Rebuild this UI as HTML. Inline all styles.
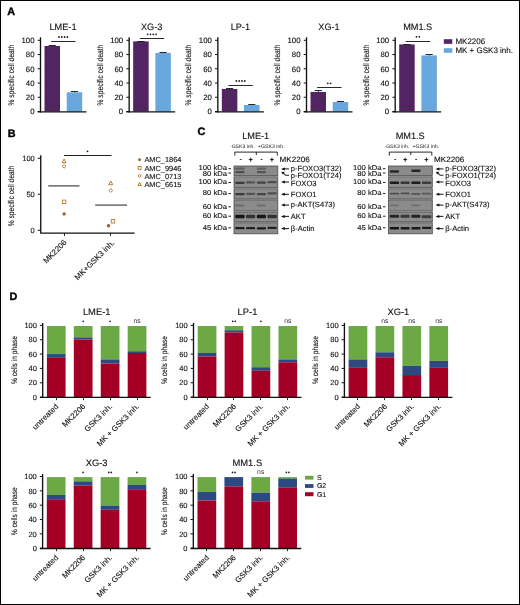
<!DOCTYPE html>
<html><head><meta charset="utf-8"><style>
html,body{margin:0;padding:0;background:#fff;}
#fig{position:relative;width:520px;height:605px;box-sizing:border-box;border:1px solid #000;overflow:hidden;background:#fff;}
svg{position:absolute;left:-1px;top:-1px;opacity:0.995;}
text{font-family:"Liberation Sans", sans-serif;stroke:#111;stroke-width:0.12px;text-rendering:geometricPrecision;}
</style></head><body>
<div id="fig"><svg width="520" height="605" viewBox="0 0 520 605" font-family='"Liberation Sans", sans-serif' fill="#111">
<defs><filter id="bl" x="-20%" y="-100%" width="140%" height="300%"><feGaussianBlur stdDeviation="0.65"/></filter></defs>
<text x="7.30" y="14.80" font-size="10.8" font-weight="bold" fill="#000" style="stroke:#000;stroke-width:0.4px">A</text>
<text x="7.80" y="136.70" font-size="10.8" font-weight="bold" fill="#000" style="stroke:#000;stroke-width:0.4px">B</text>
<text x="197.60" y="135.40" font-size="10.8" font-weight="bold" fill="#000" style="stroke:#000;stroke-width:0.4px">C</text>
<text x="9.60" y="300.30" font-size="10.8" font-weight="bold" fill="#000" style="stroke:#000;stroke-width:0.4px">D</text>
<text transform="translate(14.10,75.10) rotate(-90)" font-size="8.4" text-anchor="middle" textLength="60.7" lengthAdjust="spacingAndGlyphs">% specific cell death</text>
<text x="63.00" y="29.90" font-size="9.2" text-anchor="middle">LME-1</text>
<rect x="44.50" y="46.00" width="15.50" height="65.50" fill="#532462"/>
<line x1="52.50" y1="46.00" x2="52.50" y2="45.71" stroke="#111" stroke-width="0.8"/>
<line x1="48.65" y1="45.50" x2="55.85" y2="45.50" stroke="#111" stroke-width="0.9"/>
<rect x="66.70" y="92.28" width="15.50" height="19.22" fill="#68a8de"/>
<line x1="74.50" y1="92.28" x2="74.50" y2="91.92" stroke="#111" stroke-width="0.8"/>
<line x1="70.85" y1="91.50" x2="78.05" y2="91.50" stroke="#111" stroke-width="0.9"/>
<line x1="40.50" y1="37.30" x2="40.50" y2="112.50" stroke="#111" stroke-width="1.35"/>
<line x1="37.70" y1="111.85" x2="86.50" y2="111.85" stroke="#111" stroke-width="1.3"/>
<line x1="37.70" y1="111.50" x2="40.50" y2="111.50" stroke="#111" stroke-width="1.0"/>
<text x="34.50" y="114.30" font-size="7.8" text-anchor="end">0</text>
<line x1="37.70" y1="97.26" x2="40.50" y2="97.26" stroke="#111" stroke-width="1.0"/>
<text x="34.50" y="100.06" font-size="7.8" text-anchor="end">20</text>
<line x1="37.70" y1="83.02" x2="40.50" y2="83.02" stroke="#111" stroke-width="1.0"/>
<text x="34.50" y="85.82" font-size="7.8" text-anchor="end">40</text>
<line x1="37.70" y1="68.78" x2="40.50" y2="68.78" stroke="#111" stroke-width="1.0"/>
<text x="34.50" y="71.58" font-size="7.8" text-anchor="end">60</text>
<line x1="37.70" y1="54.54" x2="40.50" y2="54.54" stroke="#111" stroke-width="1.0"/>
<text x="34.50" y="57.34" font-size="7.8" text-anchor="end">80</text>
<line x1="37.70" y1="40.30" x2="40.50" y2="40.30" stroke="#111" stroke-width="1.0"/>
<text x="34.50" y="43.10" font-size="7.8" text-anchor="end">100</text>
<line x1="51.10" y1="41.50" x2="75.50" y2="41.50" stroke="#111" stroke-width="0.9"/>
<circle cx="59.00" cy="37.00" r="0.9" fill="#1a1a1a"/>
<circle cx="61.80" cy="37.00" r="0.9" fill="#1a1a1a"/>
<circle cx="64.60" cy="37.00" r="0.9" fill="#1a1a1a"/>
<circle cx="67.40" cy="37.00" r="0.9" fill="#1a1a1a"/>
<text transform="translate(102.77,75.10) rotate(-90)" font-size="8.4" text-anchor="middle" textLength="60.7" lengthAdjust="spacingAndGlyphs">% specific cell death</text>
<text x="151.67" y="29.90" font-size="9.2" text-anchor="middle">XG-3</text>
<rect x="133.17" y="41.37" width="15.50" height="70.13" fill="#532462"/>
<line x1="140.50" y1="41.37" x2="140.50" y2="41.08" stroke="#111" stroke-width="0.8"/>
<line x1="137.32" y1="41.50" x2="144.52" y2="41.50" stroke="#111" stroke-width="0.9"/>
<rect x="155.37" y="52.90" width="15.50" height="58.60" fill="#68a8de"/>
<line x1="163.50" y1="52.90" x2="163.50" y2="52.62" stroke="#111" stroke-width="0.8"/>
<line x1="159.52" y1="52.50" x2="166.72" y2="52.50" stroke="#111" stroke-width="0.9"/>
<line x1="129.17" y1="37.30" x2="129.17" y2="112.50" stroke="#111" stroke-width="1.35"/>
<line x1="126.37" y1="111.85" x2="175.17" y2="111.85" stroke="#111" stroke-width="1.3"/>
<line x1="126.37" y1="111.50" x2="129.17" y2="111.50" stroke="#111" stroke-width="1.0"/>
<text x="123.17" y="114.30" font-size="7.8" text-anchor="end">0</text>
<line x1="126.37" y1="97.26" x2="129.17" y2="97.26" stroke="#111" stroke-width="1.0"/>
<text x="123.17" y="100.06" font-size="7.8" text-anchor="end">20</text>
<line x1="126.37" y1="83.02" x2="129.17" y2="83.02" stroke="#111" stroke-width="1.0"/>
<text x="123.17" y="85.82" font-size="7.8" text-anchor="end">40</text>
<line x1="126.37" y1="68.78" x2="129.17" y2="68.78" stroke="#111" stroke-width="1.0"/>
<text x="123.17" y="71.58" font-size="7.8" text-anchor="end">60</text>
<line x1="126.37" y1="54.54" x2="129.17" y2="54.54" stroke="#111" stroke-width="1.0"/>
<text x="123.17" y="57.34" font-size="7.8" text-anchor="end">80</text>
<line x1="126.37" y1="40.30" x2="129.17" y2="40.30" stroke="#111" stroke-width="1.0"/>
<text x="123.17" y="43.10" font-size="7.8" text-anchor="end">100</text>
<line x1="139.77" y1="38.50" x2="164.17" y2="38.50" stroke="#111" stroke-width="0.9"/>
<circle cx="147.67" cy="34.30" r="0.9" fill="#1a1a1a"/>
<circle cx="150.47" cy="34.30" r="0.9" fill="#1a1a1a"/>
<circle cx="153.27" cy="34.30" r="0.9" fill="#1a1a1a"/>
<circle cx="156.07" cy="34.30" r="0.9" fill="#1a1a1a"/>
<text transform="translate(191.44,75.10) rotate(-90)" font-size="8.4" text-anchor="middle" textLength="60.7" lengthAdjust="spacingAndGlyphs">% specific cell death</text>
<text x="240.34" y="29.90" font-size="9.2" text-anchor="middle">LP-1</text>
<rect x="221.84" y="89.00" width="15.50" height="22.50" fill="#532462"/>
<line x1="229.50" y1="89.00" x2="229.50" y2="88.43" stroke="#111" stroke-width="0.8"/>
<line x1="225.99" y1="88.50" x2="233.19" y2="88.50" stroke="#111" stroke-width="0.9"/>
<rect x="244.04" y="105.02" width="15.50" height="6.48" fill="#68a8de"/>
<line x1="251.50" y1="105.02" x2="251.50" y2="104.45" stroke="#111" stroke-width="0.8"/>
<line x1="248.19" y1="104.50" x2="255.39" y2="104.50" stroke="#111" stroke-width="0.9"/>
<line x1="217.84" y1="37.30" x2="217.84" y2="112.50" stroke="#111" stroke-width="1.35"/>
<line x1="215.04" y1="111.85" x2="263.84" y2="111.85" stroke="#111" stroke-width="1.3"/>
<line x1="215.04" y1="111.50" x2="217.84" y2="111.50" stroke="#111" stroke-width="1.0"/>
<text x="211.84" y="114.30" font-size="7.8" text-anchor="end">0</text>
<line x1="215.04" y1="97.26" x2="217.84" y2="97.26" stroke="#111" stroke-width="1.0"/>
<text x="211.84" y="100.06" font-size="7.8" text-anchor="end">20</text>
<line x1="215.04" y1="83.02" x2="217.84" y2="83.02" stroke="#111" stroke-width="1.0"/>
<text x="211.84" y="85.82" font-size="7.8" text-anchor="end">40</text>
<line x1="215.04" y1="68.78" x2="217.84" y2="68.78" stroke="#111" stroke-width="1.0"/>
<text x="211.84" y="71.58" font-size="7.8" text-anchor="end">60</text>
<line x1="215.04" y1="54.54" x2="217.84" y2="54.54" stroke="#111" stroke-width="1.0"/>
<text x="211.84" y="57.34" font-size="7.8" text-anchor="end">80</text>
<line x1="215.04" y1="40.30" x2="217.84" y2="40.30" stroke="#111" stroke-width="1.0"/>
<text x="211.84" y="43.10" font-size="7.8" text-anchor="end">100</text>
<line x1="228.44" y1="85.50" x2="252.84" y2="85.50" stroke="#111" stroke-width="0.9"/>
<circle cx="236.34" cy="81.00" r="0.9" fill="#1a1a1a"/>
<circle cx="239.14" cy="81.00" r="0.9" fill="#1a1a1a"/>
<circle cx="241.94" cy="81.00" r="0.9" fill="#1a1a1a"/>
<circle cx="244.74" cy="81.00" r="0.9" fill="#1a1a1a"/>
<text transform="translate(280.11,75.10) rotate(-90)" font-size="8.4" text-anchor="middle" textLength="60.7" lengthAdjust="spacingAndGlyphs">% specific cell death</text>
<text x="329.01" y="29.90" font-size="9.2" text-anchor="middle">XG-1</text>
<rect x="310.51" y="91.92" width="15.50" height="19.58" fill="#532462"/>
<line x1="318.50" y1="91.92" x2="318.50" y2="90.50" stroke="#111" stroke-width="0.8"/>
<line x1="314.66" y1="90.50" x2="321.86" y2="90.50" stroke="#111" stroke-width="0.9"/>
<rect x="332.71" y="102.03" width="15.50" height="9.47" fill="#68a8de"/>
<line x1="340.50" y1="102.03" x2="340.50" y2="101.60" stroke="#111" stroke-width="0.8"/>
<line x1="336.86" y1="101.50" x2="344.06" y2="101.50" stroke="#111" stroke-width="0.9"/>
<line x1="306.51" y1="37.30" x2="306.51" y2="112.50" stroke="#111" stroke-width="1.35"/>
<line x1="303.71" y1="111.85" x2="352.51" y2="111.85" stroke="#111" stroke-width="1.3"/>
<line x1="303.71" y1="111.50" x2="306.51" y2="111.50" stroke="#111" stroke-width="1.0"/>
<text x="300.51" y="114.30" font-size="7.8" text-anchor="end">0</text>
<line x1="303.71" y1="97.26" x2="306.51" y2="97.26" stroke="#111" stroke-width="1.0"/>
<text x="300.51" y="100.06" font-size="7.8" text-anchor="end">20</text>
<line x1="303.71" y1="83.02" x2="306.51" y2="83.02" stroke="#111" stroke-width="1.0"/>
<text x="300.51" y="85.82" font-size="7.8" text-anchor="end">40</text>
<line x1="303.71" y1="68.78" x2="306.51" y2="68.78" stroke="#111" stroke-width="1.0"/>
<text x="300.51" y="71.58" font-size="7.8" text-anchor="end">60</text>
<line x1="303.71" y1="54.54" x2="306.51" y2="54.54" stroke="#111" stroke-width="1.0"/>
<text x="300.51" y="57.34" font-size="7.8" text-anchor="end">80</text>
<line x1="303.71" y1="40.30" x2="306.51" y2="40.30" stroke="#111" stroke-width="1.0"/>
<text x="300.51" y="43.10" font-size="7.8" text-anchor="end">100</text>
<line x1="317.11" y1="87.50" x2="341.51" y2="87.50" stroke="#111" stroke-width="0.9"/>
<circle cx="327.81" cy="83.30" r="0.9" fill="#1a1a1a"/>
<circle cx="330.61" cy="83.30" r="0.9" fill="#1a1a1a"/>
<text transform="translate(368.78,75.10) rotate(-90)" font-size="8.4" text-anchor="middle" textLength="60.7" lengthAdjust="spacingAndGlyphs">% specific cell death</text>
<text x="417.68" y="29.90" font-size="9.2" text-anchor="middle">MM1.S</text>
<rect x="399.18" y="44.43" width="15.50" height="67.07" fill="#532462"/>
<line x1="406.50" y1="44.43" x2="406.50" y2="44.07" stroke="#111" stroke-width="0.8"/>
<line x1="403.33" y1="44.50" x2="410.53" y2="44.50" stroke="#111" stroke-width="0.9"/>
<rect x="421.38" y="55.39" width="15.50" height="56.11" fill="#68a8de"/>
<line x1="429.50" y1="55.39" x2="429.50" y2="54.54" stroke="#111" stroke-width="0.8"/>
<line x1="425.53" y1="54.50" x2="432.73" y2="54.50" stroke="#111" stroke-width="0.9"/>
<line x1="395.18" y1="37.30" x2="395.18" y2="112.50" stroke="#111" stroke-width="1.35"/>
<line x1="392.38" y1="111.85" x2="441.18" y2="111.85" stroke="#111" stroke-width="1.3"/>
<line x1="392.38" y1="111.50" x2="395.18" y2="111.50" stroke="#111" stroke-width="1.0"/>
<text x="389.18" y="114.30" font-size="7.8" text-anchor="end">0</text>
<line x1="392.38" y1="97.26" x2="395.18" y2="97.26" stroke="#111" stroke-width="1.0"/>
<text x="389.18" y="100.06" font-size="7.8" text-anchor="end">20</text>
<line x1="392.38" y1="83.02" x2="395.18" y2="83.02" stroke="#111" stroke-width="1.0"/>
<text x="389.18" y="85.82" font-size="7.8" text-anchor="end">40</text>
<line x1="392.38" y1="68.78" x2="395.18" y2="68.78" stroke="#111" stroke-width="1.0"/>
<text x="389.18" y="71.58" font-size="7.8" text-anchor="end">60</text>
<line x1="392.38" y1="54.54" x2="395.18" y2="54.54" stroke="#111" stroke-width="1.0"/>
<text x="389.18" y="57.34" font-size="7.8" text-anchor="end">80</text>
<line x1="392.38" y1="40.30" x2="395.18" y2="40.30" stroke="#111" stroke-width="1.0"/>
<text x="389.18" y="43.10" font-size="7.8" text-anchor="end">100</text>
<line x1="405.78" y1="41.50" x2="430.18" y2="41.50" stroke="#111" stroke-width="0.9"/>
<circle cx="416.48" cy="36.80" r="0.9" fill="#1a1a1a"/>
<circle cx="419.28" cy="36.80" r="0.9" fill="#1a1a1a"/>
<rect x="443.80" y="39.20" width="8.50" height="4.60" fill="#532462"/>
<rect x="443.80" y="48.20" width="8.50" height="4.60" fill="#68a8de"/>
<text x="455.40" y="44.20" font-size="8.0">MK2206</text>
<text x="455.40" y="53.20" font-size="8.0">MK + GSK3 inh.</text>
<line x1="40.75" y1="155.30" x2="40.75" y2="233.60" stroke="#111" stroke-width="1.35"/>
<line x1="40.75" y1="233.10" x2="134.60" y2="233.10" stroke="#111" stroke-width="1.3"/>
<line x1="37.75" y1="230.25" x2="40.75" y2="230.25" stroke="#111" stroke-width="1.0"/>
<text x="34.75" y="232.95" font-size="7.5" text-anchor="end">0</text>
<line x1="37.75" y1="194.25" x2="40.75" y2="194.25" stroke="#111" stroke-width="1.0"/>
<text x="34.75" y="196.95" font-size="7.5" text-anchor="end">50</text>
<line x1="37.75" y1="158.25" x2="40.75" y2="158.25" stroke="#111" stroke-width="1.0"/>
<text x="34.75" y="160.95" font-size="7.5" text-anchor="end">100</text>
<line x1="64.50" y1="233.00" x2="64.50" y2="236.00" stroke="#111" stroke-width="0.9"/>
<line x1="110.50" y1="233.00" x2="110.50" y2="236.00" stroke="#111" stroke-width="0.9"/>
<text transform="translate(14.40,196.00) rotate(-90)" font-size="8.4" text-anchor="middle" textLength="60.7" lengthAdjust="spacingAndGlyphs">% specific cell death</text>
<text transform="translate(67.20,243.00) rotate(-45)" font-size="7.9" text-anchor="end">MK2206</text>
<text transform="translate(114.90,243.40) rotate(-45)" font-size="7.9" text-anchor="end">MK+GSK3 inh.</text>
<line x1="48.30" y1="185.90" x2="79.50" y2="185.90" stroke="#505050" stroke-width="1.3"/>
<line x1="95.20" y1="205.10" x2="127.00" y2="205.10" stroke="#505050" stroke-width="1.3"/>
<line x1="64.00" y1="155.50" x2="111.50" y2="155.50" stroke="#222" stroke-width="1.0"/>
<circle cx="87.50" cy="151.30" r="0.9" fill="#1a1a1a"/>
<path d="M64.10,159.00 L66.10,162.70 L62.10,162.70Z" fill="none" stroke="#bb782e" stroke-width="1.0" stroke-linejoin="round"/>
<path d="M64.10,164.40 L66.00,166.30 L64.10,168.20 L62.20,166.30Z" fill="none" stroke="#bb782e" stroke-width="1.0"/>
<rect x="62.40" y="200.10" width="3.40" height="3.40" fill="none" stroke="#bb782e" stroke-width="0.9"/>
<circle cx="64.10" cy="213.90" r="1.70" fill="#a85a1e"/>
<path d="M110.80,181.00 L112.80,184.70 L108.80,184.70Z" fill="none" stroke="#bb782e" stroke-width="1.0" stroke-linejoin="round"/>
<path d="M110.80,188.60 L112.70,190.50 L110.80,192.40 L108.90,190.50Z" fill="none" stroke="#bb782e" stroke-width="1.0"/>
<rect x="111.30" y="219.60" width="3.40" height="3.40" fill="none" stroke="#bb782e" stroke-width="0.9"/>
<circle cx="108.50" cy="225.80" r="1.70" fill="#a85a1e"/>
<circle cx="139.60" cy="159.80" r="1.44" fill="#a85a1e"/>
<text x="144.40" y="162.40" font-size="7.3" textLength="37.0" lengthAdjust="spacingAndGlyphs">AMC_1864</text>
<rect x="138.16" y="166.46" width="2.89" height="2.89" fill="none" stroke="#bb782e" stroke-width="0.9"/>
<text x="144.40" y="170.50" font-size="7.3" textLength="37.0" lengthAdjust="spacingAndGlyphs">AMC_9946</text>
<path d="M139.60,174.38 L141.22,176.00 L139.60,177.62 L137.98,176.00Z" fill="none" stroke="#bb782e" stroke-width="1.0"/>
<text x="144.40" y="178.60" font-size="7.3" textLength="37.0" lengthAdjust="spacingAndGlyphs">AMC_0713</text>
<path d="M139.60,182.40 L141.30,185.55 L137.90,185.55Z" fill="none" stroke="#bb782e" stroke-width="1.0" stroke-linejoin="round"/>
<text x="144.40" y="186.70" font-size="7.3" textLength="37.0" lengthAdjust="spacingAndGlyphs">AMC_6615</text>
<text x="255.70" y="139.20" font-size="9.2" text-anchor="middle">LME-1</text>
<text x="242.40" y="148.00" font-size="5.1" text-anchor="middle" fill="#222" style="stroke:none">-GSK3 inh.</text>
<text x="271.30" y="148.00" font-size="5.2" text-anchor="middle" fill="#222" style="stroke:none">+GSK3 inh.</text>
<path d="M234.80,155.6 V152.1 H277.30 V155.6 M256.30,152.1 V155" fill="none" stroke="#111" stroke-width="0.9"/>
<line x1="239.80" y1="159.50" x2="241.60" y2="159.50" stroke="#222" stroke-width="0.9"/>
<line x1="249.80" y1="159.50" x2="251.60" y2="159.50" stroke="#222" stroke-width="0.9"/>
<line x1="248.80" y1="159.60" x2="252.60" y2="159.60" stroke="#111" stroke-width="0.9"/>
<line x1="250.70" y1="157.60" x2="250.70" y2="161.70" stroke="#111" stroke-width="0.9"/>
<line x1="260.70" y1="159.50" x2="262.50" y2="159.50" stroke="#222" stroke-width="0.9"/>
<line x1="271.00" y1="159.50" x2="272.80" y2="159.50" stroke="#222" stroke-width="0.9"/>
<line x1="270.00" y1="159.60" x2="273.80" y2="159.60" stroke="#111" stroke-width="0.9"/>
<line x1="271.90" y1="157.60" x2="271.90" y2="161.70" stroke="#111" stroke-width="0.9"/>
<text x="279.50" y="161.90" font-size="7.7" textLength="30.2" lengthAdjust="spacingAndGlyphs">MK2206</text>
<text x="227.10" y="169.50" font-size="7.1" text-anchor="end" textLength="28.6" lengthAdjust="spacingAndGlyphs">100 kDa</text>
<text x="227.10" y="176.40" font-size="7.1" text-anchor="end" textLength="24.3" lengthAdjust="spacingAndGlyphs">80 kDa</text>
<text x="227.10" y="184.20" font-size="7.1" text-anchor="end" textLength="28.6" lengthAdjust="spacingAndGlyphs">100 kDa</text>
<text x="227.10" y="195.40" font-size="7.1" text-anchor="end" textLength="24.3" lengthAdjust="spacingAndGlyphs">80 kDa</text>
<text x="227.10" y="208.60" font-size="7.1" text-anchor="end" textLength="24.3" lengthAdjust="spacingAndGlyphs">60 kDa</text>
<text x="227.10" y="217.70" font-size="7.1" text-anchor="end" textLength="24.3" lengthAdjust="spacingAndGlyphs">60 kDa</text>
<text x="227.10" y="229.60" font-size="7.1" text-anchor="end" textLength="24.3" lengthAdjust="spacingAndGlyphs">45 kDa</text>
<line x1="228.40" y1="168.70" x2="231.00" y2="168.70" stroke="#222" stroke-width="1.0"/>
<line x1="228.40" y1="173.00" x2="231.00" y2="173.00" stroke="#222" stroke-width="1.0"/>
<line x1="228.40" y1="182.50" x2="231.00" y2="182.50" stroke="#222" stroke-width="1.0"/>
<line x1="228.40" y1="193.60" x2="231.00" y2="193.60" stroke="#222" stroke-width="1.0"/>
<line x1="228.40" y1="206.80" x2="231.00" y2="206.80" stroke="#222" stroke-width="1.0"/>
<line x1="228.40" y1="216.20" x2="231.00" y2="216.20" stroke="#222" stroke-width="1.0"/>
<line x1="228.40" y1="227.80" x2="231.00" y2="227.80" stroke="#222" stroke-width="1.0"/>
<rect x="234.00" y="166.00" width="43.80" height="9.50" fill="#8b8b8b" stroke="#4a4a4a" stroke-width="0.8"/>
<rect x="234.00" y="176.80" width="43.80" height="10.70" fill="#8b8b8b" stroke="#4a4a4a" stroke-width="0.8"/>
<rect x="234.00" y="188.80" width="43.80" height="10.20" fill="#8b8b8b" stroke="#4a4a4a" stroke-width="0.8"/>
<rect x="234.00" y="199.90" width="43.80" height="11.10" fill="#8b8b8b" stroke="#4a4a4a" stroke-width="0.8"/>
<rect x="234.00" y="212.00" width="43.80" height="9.80" fill="#8b8b8b" stroke="#4a4a4a" stroke-width="0.8"/>
<rect x="234.00" y="222.80" width="43.80" height="11.00" fill="#8b8b8b" stroke="#4a4a4a" stroke-width="0.8"/>
<text x="290.80" y="170.90" font-size="7.6">p-FOXO3(T32)</text>
<text x="290.80" y="177.80" font-size="7.6">p-FOXO1(T24)</text>
<text x="290.80" y="186.00" font-size="7.6">FOXO3</text>
<text x="290.80" y="196.80" font-size="7.6">FOXO1</text>
<text x="290.80" y="207.40" font-size="7.6">p-AKT(S473)</text>
<text x="290.80" y="218.60" font-size="7.6">AKT</text>
<text x="290.80" y="231.40" font-size="7.6">&#946;-Actin</text>
<line x1="283.00" y1="168.90" x2="289.00" y2="168.90" stroke="#2a2a2a" stroke-width="1.1"/>
<path d="M281.00,168.90 l3.8,-1.5 v3.0z" fill="#111"/>
<line x1="283.00" y1="182.00" x2="289.00" y2="182.00" stroke="#2a2a2a" stroke-width="1.1"/>
<path d="M281.00,182.00 l3.8,-1.5 v3.0z" fill="#111"/>
<line x1="283.00" y1="194.30" x2="289.00" y2="194.30" stroke="#2a2a2a" stroke-width="1.1"/>
<path d="M281.00,194.30 l3.8,-1.5 v3.0z" fill="#111"/>
<line x1="283.00" y1="205.10" x2="289.00" y2="205.10" stroke="#2a2a2a" stroke-width="1.1"/>
<path d="M281.00,205.10 l3.8,-1.5 v3.0z" fill="#111"/>
<line x1="283.00" y1="216.40" x2="289.00" y2="216.40" stroke="#2a2a2a" stroke-width="1.1"/>
<path d="M281.00,216.40 l3.8,-1.5 v3.0z" fill="#111"/>
<line x1="283.00" y1="228.60" x2="289.00" y2="228.60" stroke="#2a2a2a" stroke-width="1.1"/>
<path d="M281.00,228.60 l3.8,-1.5 v3.0z" fill="#111"/>
<path d="M283.20,172.9 L285.60,175.3 H289.00" fill="none" stroke="#222" stroke-width="1.1"/>
<path d="M281.20,172.0 l3.6,-0.3 l-1.8,2.7z" fill="#111"/>
<g filter="url(#bl)">
<rect x="235.20" y="167.50" width="9.40" height="2.20" rx="1" fill="#606060"/>
<rect x="256.80" y="167.50" width="9.20" height="2.20" rx="1" fill="#626262"/>
<rect x="235.20" y="171.00" width="9.40" height="2.20" rx="1" fill="#505050"/>
<rect x="256.80" y="171.00" width="9.20" height="2.20" rx="1" fill="#555"/>
<rect x="235.20" y="181.80" width="9.40" height="2.20" rx="1" fill="#3a3a3a"/>
<rect x="246.00" y="181.20" width="9.20" height="2.20" rx="1" fill="#555"/>
<rect x="256.80" y="181.60" width="9.20" height="2.20" rx="1" fill="#444"/>
<rect x="267.40" y="181.00" width="9.40" height="2.20" rx="1" fill="#505050"/>
<rect x="235.20" y="193.10" width="9.40" height="2.20" rx="1" fill="#3a3a3a"/>
<rect x="246.00" y="192.80" width="9.20" height="2.20" rx="1" fill="#555"/>
<rect x="256.80" y="193.10" width="9.20" height="2.20" rx="1" fill="#444"/>
<rect x="267.40" y="192.30" width="9.40" height="2.20" rx="1" fill="#505050"/>
<rect x="235.20" y="204.60" width="9.40" height="2.00" rx="1" fill="#6a6a6a"/>
<rect x="256.80" y="204.60" width="9.20" height="2.00" rx="1" fill="#6e6e6e"/>
<rect x="235.20" y="214.80" width="9.40" height="3.40" rx="1" fill="#151515"/>
<rect x="246.00" y="214.80" width="9.20" height="3.40" rx="1" fill="#333"/>
<rect x="256.80" y="214.80" width="9.20" height="3.40" rx="1" fill="#151515"/>
<rect x="267.40" y="214.80" width="9.40" height="3.40" rx="1" fill="#303030"/>
<rect x="235.20" y="227.10" width="9.40" height="2.20" rx="1" fill="#1c1c1c"/>
<rect x="246.00" y="227.10" width="9.20" height="2.20" rx="1" fill="#222"/>
<rect x="256.80" y="227.30" width="9.20" height="2.20" rx="1" fill="#1c1c1c"/>
<rect x="267.40" y="226.80" width="9.40" height="2.20" rx="1" fill="#222"/>
</g>
<text x="410.20" y="139.20" font-size="9.2" text-anchor="middle">MM1.S</text>
<text x="396.90" y="148.00" font-size="5.1" text-anchor="middle" fill="#222" style="stroke:none">-GSK3 inh.</text>
<text x="425.80" y="148.00" font-size="5.2" text-anchor="middle" fill="#222" style="stroke:none">+GSK3 inh.</text>
<path d="M389.30,155.6 V152.1 H431.80 V155.6 M410.80,152.1 V155" fill="none" stroke="#111" stroke-width="0.9"/>
<line x1="394.30" y1="159.50" x2="396.10" y2="159.50" stroke="#222" stroke-width="0.9"/>
<line x1="404.30" y1="159.50" x2="406.10" y2="159.50" stroke="#222" stroke-width="0.9"/>
<line x1="403.30" y1="159.60" x2="407.10" y2="159.60" stroke="#111" stroke-width="0.9"/>
<line x1="405.20" y1="157.60" x2="405.20" y2="161.70" stroke="#111" stroke-width="0.9"/>
<line x1="415.20" y1="159.50" x2="417.00" y2="159.50" stroke="#222" stroke-width="0.9"/>
<line x1="425.50" y1="159.50" x2="427.30" y2="159.50" stroke="#222" stroke-width="0.9"/>
<line x1="424.50" y1="159.60" x2="428.30" y2="159.60" stroke="#111" stroke-width="0.9"/>
<line x1="426.40" y1="157.60" x2="426.40" y2="161.70" stroke="#111" stroke-width="0.9"/>
<text x="434.00" y="161.90" font-size="7.7" textLength="30.2" lengthAdjust="spacingAndGlyphs">MK2206</text>
<text x="381.60" y="169.50" font-size="7.1" text-anchor="end" textLength="28.6" lengthAdjust="spacingAndGlyphs">100 kDa</text>
<text x="381.60" y="176.40" font-size="7.1" text-anchor="end" textLength="24.3" lengthAdjust="spacingAndGlyphs">80 kDa</text>
<text x="381.60" y="184.20" font-size="7.1" text-anchor="end" textLength="28.6" lengthAdjust="spacingAndGlyphs">100 kDa</text>
<text x="381.60" y="195.40" font-size="7.1" text-anchor="end" textLength="24.3" lengthAdjust="spacingAndGlyphs">80 kDa</text>
<text x="381.60" y="208.60" font-size="7.1" text-anchor="end" textLength="24.3" lengthAdjust="spacingAndGlyphs">60 kDa</text>
<text x="381.60" y="217.70" font-size="7.1" text-anchor="end" textLength="24.3" lengthAdjust="spacingAndGlyphs">60 kDa</text>
<text x="381.60" y="229.60" font-size="7.1" text-anchor="end" textLength="24.3" lengthAdjust="spacingAndGlyphs">45 kDa</text>
<line x1="382.90" y1="168.70" x2="385.50" y2="168.70" stroke="#222" stroke-width="1.0"/>
<line x1="382.90" y1="173.00" x2="385.50" y2="173.00" stroke="#222" stroke-width="1.0"/>
<line x1="382.90" y1="182.50" x2="385.50" y2="182.50" stroke="#222" stroke-width="1.0"/>
<line x1="382.90" y1="193.60" x2="385.50" y2="193.60" stroke="#222" stroke-width="1.0"/>
<line x1="382.90" y1="206.80" x2="385.50" y2="206.80" stroke="#222" stroke-width="1.0"/>
<line x1="382.90" y1="216.20" x2="385.50" y2="216.20" stroke="#222" stroke-width="1.0"/>
<line x1="382.90" y1="227.80" x2="385.50" y2="227.80" stroke="#222" stroke-width="1.0"/>
<rect x="388.50" y="166.00" width="43.80" height="9.50" fill="#8b8b8b" stroke="#4a4a4a" stroke-width="0.8"/>
<rect x="388.50" y="176.80" width="43.80" height="10.70" fill="#8b8b8b" stroke="#4a4a4a" stroke-width="0.8"/>
<rect x="388.50" y="188.80" width="43.80" height="10.20" fill="#8b8b8b" stroke="#4a4a4a" stroke-width="0.8"/>
<rect x="388.50" y="199.90" width="43.80" height="11.10" fill="#8b8b8b" stroke="#4a4a4a" stroke-width="0.8"/>
<rect x="388.50" y="212.00" width="43.80" height="9.80" fill="#8b8b8b" stroke="#4a4a4a" stroke-width="0.8"/>
<rect x="388.50" y="222.80" width="43.80" height="11.00" fill="#8b8b8b" stroke="#4a4a4a" stroke-width="0.8"/>
<text x="445.30" y="170.90" font-size="7.6">p-FOXO3(T32)</text>
<text x="445.30" y="177.80" font-size="7.6">p-FOXO1(T24)</text>
<text x="445.30" y="186.00" font-size="7.6">FOXO3</text>
<text x="445.30" y="196.80" font-size="7.6">FOXO1</text>
<text x="445.30" y="207.40" font-size="7.6">p-AKT(S473)</text>
<text x="445.30" y="218.60" font-size="7.6">AKT</text>
<text x="445.30" y="231.40" font-size="7.6">&#946;-Actin</text>
<line x1="437.50" y1="168.90" x2="443.50" y2="168.90" stroke="#2a2a2a" stroke-width="1.1"/>
<path d="M435.50,168.90 l3.8,-1.5 v3.0z" fill="#111"/>
<line x1="437.50" y1="182.00" x2="443.50" y2="182.00" stroke="#2a2a2a" stroke-width="1.1"/>
<path d="M435.50,182.00 l3.8,-1.5 v3.0z" fill="#111"/>
<line x1="437.50" y1="194.30" x2="443.50" y2="194.30" stroke="#2a2a2a" stroke-width="1.1"/>
<path d="M435.50,194.30 l3.8,-1.5 v3.0z" fill="#111"/>
<line x1="437.50" y1="205.10" x2="443.50" y2="205.10" stroke="#2a2a2a" stroke-width="1.1"/>
<path d="M435.50,205.10 l3.8,-1.5 v3.0z" fill="#111"/>
<line x1="437.50" y1="216.40" x2="443.50" y2="216.40" stroke="#2a2a2a" stroke-width="1.1"/>
<path d="M435.50,216.40 l3.8,-1.5 v3.0z" fill="#111"/>
<line x1="437.50" y1="228.60" x2="443.50" y2="228.60" stroke="#2a2a2a" stroke-width="1.1"/>
<path d="M435.50,228.60 l3.8,-1.5 v3.0z" fill="#111"/>
<path d="M437.70,172.9 L440.10,175.3 H443.50" fill="none" stroke="#222" stroke-width="1.1"/>
<path d="M435.70,172.0 l3.6,-0.3 l-1.8,2.7z" fill="#111"/>
<g filter="url(#bl)">
<rect x="389.70" y="170.30" width="9.40" height="2.40" rx="1" fill="#262626"/>
<rect x="411.30" y="169.50" width="9.20" height="2.40" rx="1" fill="#262626"/>
<rect x="389.70" y="181.55" width="9.40" height="2.50" rx="1" fill="#1a1a1a"/>
<rect x="400.50" y="181.55" width="9.20" height="2.50" rx="1" fill="#383838"/>
<rect x="411.30" y="181.55" width="9.20" height="2.50" rx="1" fill="#1a1a1a"/>
<rect x="421.90" y="181.55" width="9.40" height="2.50" rx="1" fill="#3c3c3c"/>
<rect x="389.70" y="192.80" width="9.40" height="1.80" rx="1" fill="#505050"/>
<rect x="400.50" y="192.50" width="9.20" height="1.80" rx="1" fill="#4e4e4e"/>
<rect x="411.30" y="193.00" width="9.20" height="1.80" rx="1" fill="#555"/>
<rect x="421.90" y="192.80" width="9.40" height="1.80" rx="1" fill="#585858"/>
<rect x="389.70" y="204.50" width="9.40" height="1.80" rx="1" fill="#6e6e6e"/>
<rect x="411.30" y="204.50" width="9.20" height="1.80" rx="1" fill="#707070"/>
<rect x="389.70" y="214.80" width="9.40" height="3.00" rx="1" fill="#262626"/>
<rect x="400.50" y="214.80" width="9.20" height="3.00" rx="1" fill="#383838"/>
<rect x="411.30" y="214.80" width="9.20" height="3.00" rx="1" fill="#222"/>
<rect x="421.90" y="215.20" width="9.40" height="3.00" rx="1" fill="#3c3c3c"/>
<rect x="389.70" y="227.00" width="9.40" height="2.40" rx="1" fill="#151515"/>
<rect x="400.50" y="227.00" width="9.20" height="2.40" rx="1" fill="#1a1a1a"/>
<rect x="411.30" y="227.00" width="9.20" height="2.40" rx="1" fill="#1a1a1a"/>
<rect x="421.90" y="226.70" width="9.40" height="2.40" rx="1" fill="#1a1a1a"/>
</g>
<text transform="translate(16.60,360.10) rotate(-90)" font-size="8.0" text-anchor="middle" textLength="48.0" lengthAdjust="spacingAndGlyphs">% cells in phase</text>
<text x="96.70" y="314.60" font-size="9.4" text-anchor="middle">LME-1</text>
<rect x="46.90" y="326.00" width="18.70" height="28.08" fill="#6ca844"/>
<rect x="46.90" y="354.08" width="18.70" height="3.77" fill="#2c4a82"/>
<rect x="46.90" y="357.85" width="18.70" height="39.25" fill="#a40026"/>
<line x1="56.50" y1="397.10" x2="56.50" y2="400.10" stroke="#111" stroke-width="0.9"/>
<text transform="translate(58.85,407.00) rotate(-45)" font-size="7.8" text-anchor="end">untreated</text>
<rect x="73.83" y="326.00" width="18.70" height="11.38" fill="#6ca844"/>
<rect x="73.83" y="337.38" width="18.70" height="2.13" fill="#2c4a82"/>
<rect x="73.83" y="339.51" width="18.70" height="57.59" fill="#a40026"/>
<line x1="83.50" y1="397.10" x2="83.50" y2="400.10" stroke="#111" stroke-width="0.9"/>
<circle cx="83.18" cy="321.30" r="0.85" fill="#1a1a1a"/>
<text transform="translate(85.78,407.00) rotate(-45)" font-size="7.8" text-anchor="end">MK2206</text>
<rect x="100.76" y="326.00" width="18.70" height="33.42" fill="#6ca844"/>
<rect x="100.76" y="359.42" width="18.70" height="4.05" fill="#2c4a82"/>
<rect x="100.76" y="363.47" width="18.70" height="33.63" fill="#a40026"/>
<line x1="110.50" y1="397.10" x2="110.50" y2="400.10" stroke="#111" stroke-width="0.9"/>
<circle cx="110.11" cy="321.30" r="0.85" fill="#1a1a1a"/>
<text transform="translate(112.71,407.00) rotate(-45)" font-size="7.8" text-anchor="end">GSK3 inh.</text>
<rect x="127.69" y="326.00" width="18.70" height="25.24" fill="#6ca844"/>
<rect x="127.69" y="351.24" width="18.70" height="1.78" fill="#2c4a82"/>
<rect x="127.69" y="353.02" width="18.70" height="44.08" fill="#a40026"/>
<line x1="137.50" y1="397.10" x2="137.50" y2="400.10" stroke="#111" stroke-width="0.9"/>
<text x="137.04" y="323.20" font-size="6.8" text-anchor="middle" fill="#333" style="stroke:none">ns</text>
<text transform="translate(139.64,407.00) rotate(-45)" font-size="7.8" text-anchor="end">MK + GSK3 inh.</text>
<line x1="42.70" y1="322.90" x2="42.70" y2="398.00" stroke="#111" stroke-width="1.35"/>
<line x1="40.00" y1="397.40" x2="150.70" y2="397.40" stroke="#111" stroke-width="1.3"/>
<line x1="39.90" y1="397.10" x2="42.70" y2="397.10" stroke="#111" stroke-width="1.0"/>
<text x="36.90" y="399.80" font-size="7.5" text-anchor="end">0</text>
<line x1="39.90" y1="382.76" x2="42.70" y2="382.76" stroke="#111" stroke-width="1.0"/>
<text x="36.90" y="385.46" font-size="7.5" text-anchor="end">20</text>
<line x1="39.90" y1="368.42" x2="42.70" y2="368.42" stroke="#111" stroke-width="1.0"/>
<text x="36.90" y="371.12" font-size="7.5" text-anchor="end">40</text>
<line x1="39.90" y1="354.08" x2="42.70" y2="354.08" stroke="#111" stroke-width="1.0"/>
<text x="36.90" y="356.78" font-size="7.5" text-anchor="end">60</text>
<line x1="39.90" y1="339.74" x2="42.70" y2="339.74" stroke="#111" stroke-width="1.0"/>
<text x="36.90" y="342.44" font-size="7.5" text-anchor="end">80</text>
<line x1="39.90" y1="325.40" x2="42.70" y2="325.40" stroke="#111" stroke-width="1.0"/>
<text x="36.90" y="328.10" font-size="7.5" text-anchor="end">100</text>
<text transform="translate(167.40,360.10) rotate(-90)" font-size="8.0" text-anchor="middle" textLength="48.0" lengthAdjust="spacingAndGlyphs">% cells in phase</text>
<text x="247.50" y="314.60" font-size="9.4" text-anchor="middle">LP-1</text>
<rect x="197.70" y="326.00" width="18.70" height="27.02" fill="#6ca844"/>
<rect x="197.70" y="353.02" width="18.70" height="3.56" fill="#2c4a82"/>
<rect x="197.70" y="356.57" width="18.70" height="40.53" fill="#a40026"/>
<line x1="207.50" y1="397.10" x2="207.50" y2="400.10" stroke="#111" stroke-width="0.9"/>
<text transform="translate(209.65,407.00) rotate(-45)" font-size="7.8" text-anchor="end">untreated</text>
<rect x="224.63" y="326.00" width="18.70" height="4.27" fill="#6ca844"/>
<rect x="224.63" y="330.27" width="18.70" height="2.13" fill="#2c4a82"/>
<rect x="224.63" y="332.40" width="18.70" height="64.70" fill="#a40026"/>
<line x1="233.50" y1="397.10" x2="233.50" y2="400.10" stroke="#111" stroke-width="0.9"/>
<circle cx="232.73" cy="321.30" r="0.85" fill="#1a1a1a"/>
<circle cx="235.23" cy="321.30" r="0.85" fill="#1a1a1a"/>
<text transform="translate(236.58,407.00) rotate(-45)" font-size="7.8" text-anchor="end">MK2206</text>
<rect x="251.56" y="326.00" width="18.70" height="41.24" fill="#6ca844"/>
<rect x="251.56" y="367.24" width="18.70" height="3.56" fill="#2c4a82"/>
<rect x="251.56" y="370.79" width="18.70" height="26.31" fill="#a40026"/>
<line x1="260.50" y1="397.10" x2="260.50" y2="400.10" stroke="#111" stroke-width="0.9"/>
<circle cx="260.91" cy="321.30" r="0.85" fill="#1a1a1a"/>
<text transform="translate(263.51,407.00) rotate(-45)" font-size="7.8" text-anchor="end">GSK3 inh.</text>
<rect x="278.49" y="326.00" width="18.70" height="33.42" fill="#6ca844"/>
<rect x="278.49" y="359.42" width="18.70" height="2.84" fill="#2c4a82"/>
<rect x="278.49" y="362.26" width="18.70" height="34.84" fill="#a40026"/>
<line x1="287.50" y1="397.10" x2="287.50" y2="400.10" stroke="#111" stroke-width="0.9"/>
<text x="287.84" y="323.20" font-size="6.8" text-anchor="middle" fill="#333" style="stroke:none">ns</text>
<text transform="translate(290.44,407.00) rotate(-45)" font-size="7.8" text-anchor="end">MK + GSK3 inh.</text>
<line x1="193.50" y1="322.90" x2="193.50" y2="398.00" stroke="#111" stroke-width="1.35"/>
<line x1="190.80" y1="397.40" x2="301.50" y2="397.40" stroke="#111" stroke-width="1.3"/>
<line x1="190.70" y1="397.10" x2="193.50" y2="397.10" stroke="#111" stroke-width="1.0"/>
<text x="187.70" y="399.80" font-size="7.5" text-anchor="end">0</text>
<line x1="190.70" y1="382.76" x2="193.50" y2="382.76" stroke="#111" stroke-width="1.0"/>
<text x="187.70" y="385.46" font-size="7.5" text-anchor="end">20</text>
<line x1="190.70" y1="368.42" x2="193.50" y2="368.42" stroke="#111" stroke-width="1.0"/>
<text x="187.70" y="371.12" font-size="7.5" text-anchor="end">40</text>
<line x1="190.70" y1="354.08" x2="193.50" y2="354.08" stroke="#111" stroke-width="1.0"/>
<text x="187.70" y="356.78" font-size="7.5" text-anchor="end">60</text>
<line x1="190.70" y1="339.74" x2="193.50" y2="339.74" stroke="#111" stroke-width="1.0"/>
<text x="187.70" y="342.44" font-size="7.5" text-anchor="end">80</text>
<line x1="190.70" y1="325.40" x2="193.50" y2="325.40" stroke="#111" stroke-width="1.0"/>
<text x="187.70" y="328.10" font-size="7.5" text-anchor="end">100</text>
<text transform="translate(318.30,360.10) rotate(-90)" font-size="8.0" text-anchor="middle" textLength="48.0" lengthAdjust="spacingAndGlyphs">% cells in phase</text>
<text x="398.40" y="314.60" font-size="9.4" text-anchor="middle">XG-1</text>
<rect x="348.60" y="326.00" width="18.70" height="33.42" fill="#6ca844"/>
<rect x="348.60" y="359.42" width="18.70" height="7.82" fill="#2c4a82"/>
<rect x="348.60" y="367.24" width="18.70" height="29.86" fill="#a40026"/>
<line x1="357.50" y1="397.10" x2="357.50" y2="400.10" stroke="#111" stroke-width="0.9"/>
<text transform="translate(360.55,407.00) rotate(-45)" font-size="7.8" text-anchor="end">untreated</text>
<rect x="375.53" y="326.00" width="18.70" height="26.31" fill="#6ca844"/>
<rect x="375.53" y="352.31" width="18.70" height="4.98" fill="#2c4a82"/>
<rect x="375.53" y="357.28" width="18.70" height="39.82" fill="#a40026"/>
<line x1="384.50" y1="397.10" x2="384.50" y2="400.10" stroke="#111" stroke-width="0.9"/>
<text x="384.88" y="323.20" font-size="6.8" text-anchor="middle" fill="#333" style="stroke:none">ns</text>
<text transform="translate(387.48,407.00) rotate(-45)" font-size="7.8" text-anchor="end">MK2206</text>
<rect x="402.46" y="326.00" width="18.70" height="39.82" fill="#6ca844"/>
<rect x="402.46" y="365.82" width="18.70" height="9.24" fill="#2c4a82"/>
<rect x="402.46" y="375.06" width="18.70" height="22.04" fill="#a40026"/>
<line x1="411.50" y1="397.10" x2="411.50" y2="400.10" stroke="#111" stroke-width="0.9"/>
<text x="411.81" y="323.20" font-size="6.8" text-anchor="middle" fill="#333" style="stroke:none">ns</text>
<text transform="translate(414.41,407.00) rotate(-45)" font-size="7.8" text-anchor="end">GSK3 inh.</text>
<rect x="429.39" y="326.00" width="18.70" height="34.84" fill="#6ca844"/>
<rect x="429.39" y="360.84" width="18.70" height="6.40" fill="#2c4a82"/>
<rect x="429.39" y="367.24" width="18.70" height="29.86" fill="#a40026"/>
<line x1="438.50" y1="397.10" x2="438.50" y2="400.10" stroke="#111" stroke-width="0.9"/>
<text x="438.74" y="323.20" font-size="6.8" text-anchor="middle" fill="#333" style="stroke:none">ns</text>
<text transform="translate(441.34,407.00) rotate(-45)" font-size="7.8" text-anchor="end">MK + GSK3 inh.</text>
<line x1="344.40" y1="322.90" x2="344.40" y2="398.00" stroke="#111" stroke-width="1.35"/>
<line x1="341.70" y1="397.40" x2="452.40" y2="397.40" stroke="#111" stroke-width="1.3"/>
<line x1="341.60" y1="397.10" x2="344.40" y2="397.10" stroke="#111" stroke-width="1.0"/>
<text x="338.60" y="399.80" font-size="7.5" text-anchor="end">0</text>
<line x1="341.60" y1="382.76" x2="344.40" y2="382.76" stroke="#111" stroke-width="1.0"/>
<text x="338.60" y="385.46" font-size="7.5" text-anchor="end">20</text>
<line x1="341.60" y1="368.42" x2="344.40" y2="368.42" stroke="#111" stroke-width="1.0"/>
<text x="338.60" y="371.12" font-size="7.5" text-anchor="end">40</text>
<line x1="341.60" y1="354.08" x2="344.40" y2="354.08" stroke="#111" stroke-width="1.0"/>
<text x="338.60" y="356.78" font-size="7.5" text-anchor="end">60</text>
<line x1="341.60" y1="339.74" x2="344.40" y2="339.74" stroke="#111" stroke-width="1.0"/>
<text x="338.60" y="342.44" font-size="7.5" text-anchor="end">80</text>
<line x1="341.60" y1="325.40" x2="344.40" y2="325.40" stroke="#111" stroke-width="1.0"/>
<text x="338.60" y="328.10" font-size="7.5" text-anchor="end">100</text>
<text transform="translate(16.50,511.20) rotate(-90)" font-size="8.0" text-anchor="middle" textLength="48.0" lengthAdjust="spacingAndGlyphs">% cells in phase</text>
<text x="96.60" y="465.70" font-size="9.4" text-anchor="middle">XG-3</text>
<rect x="46.80" y="477.10" width="18.70" height="17.78" fill="#6ca844"/>
<rect x="46.80" y="494.88" width="18.70" height="4.98" fill="#2c4a82"/>
<rect x="46.80" y="499.85" width="18.70" height="48.35" fill="#a40026"/>
<line x1="56.50" y1="548.20" x2="56.50" y2="551.20" stroke="#111" stroke-width="0.9"/>
<text transform="translate(58.75,558.10) rotate(-45)" font-size="7.8" text-anchor="end">untreated</text>
<rect x="73.73" y="477.10" width="18.70" height="4.27" fill="#6ca844"/>
<rect x="73.73" y="481.37" width="18.70" height="4.27" fill="#2c4a82"/>
<rect x="73.73" y="485.63" width="18.70" height="62.57" fill="#a40026"/>
<line x1="83.50" y1="548.20" x2="83.50" y2="551.20" stroke="#111" stroke-width="0.9"/>
<circle cx="83.08" cy="472.40" r="0.85" fill="#1a1a1a"/>
<text transform="translate(85.68,558.10) rotate(-45)" font-size="7.8" text-anchor="end">MK2206</text>
<rect x="100.66" y="477.10" width="18.70" height="28.44" fill="#6ca844"/>
<rect x="100.66" y="505.54" width="18.70" height="4.27" fill="#2c4a82"/>
<rect x="100.66" y="509.81" width="18.70" height="38.39" fill="#a40026"/>
<line x1="110.50" y1="548.20" x2="110.50" y2="551.20" stroke="#111" stroke-width="0.9"/>
<circle cx="108.76" cy="472.40" r="0.85" fill="#1a1a1a"/>
<circle cx="111.26" cy="472.40" r="0.85" fill="#1a1a1a"/>
<text transform="translate(112.61,558.10) rotate(-45)" font-size="7.8" text-anchor="end">GSK3 inh.</text>
<rect x="127.59" y="477.10" width="18.70" height="7.82" fill="#6ca844"/>
<rect x="127.59" y="484.92" width="18.70" height="4.98" fill="#2c4a82"/>
<rect x="127.59" y="489.90" width="18.70" height="58.30" fill="#a40026"/>
<line x1="136.50" y1="548.20" x2="136.50" y2="551.20" stroke="#111" stroke-width="0.9"/>
<circle cx="136.94" cy="472.40" r="0.85" fill="#1a1a1a"/>
<text transform="translate(139.54,558.10) rotate(-45)" font-size="7.8" text-anchor="end">MK + GSK3 inh.</text>
<line x1="42.60" y1="474.00" x2="42.60" y2="549.10" stroke="#111" stroke-width="1.35"/>
<line x1="39.90" y1="548.50" x2="150.60" y2="548.50" stroke="#111" stroke-width="1.3"/>
<line x1="39.80" y1="548.20" x2="42.60" y2="548.20" stroke="#111" stroke-width="1.0"/>
<text x="36.80" y="550.90" font-size="7.5" text-anchor="end">0</text>
<line x1="39.80" y1="533.86" x2="42.60" y2="533.86" stroke="#111" stroke-width="1.0"/>
<text x="36.80" y="536.56" font-size="7.5" text-anchor="end">20</text>
<line x1="39.80" y1="519.52" x2="42.60" y2="519.52" stroke="#111" stroke-width="1.0"/>
<text x="36.80" y="522.22" font-size="7.5" text-anchor="end">40</text>
<line x1="39.80" y1="505.18" x2="42.60" y2="505.18" stroke="#111" stroke-width="1.0"/>
<text x="36.80" y="507.88" font-size="7.5" text-anchor="end">60</text>
<line x1="39.80" y1="490.84" x2="42.60" y2="490.84" stroke="#111" stroke-width="1.0"/>
<text x="36.80" y="493.54" font-size="7.5" text-anchor="end">80</text>
<line x1="39.80" y1="476.50" x2="42.60" y2="476.50" stroke="#111" stroke-width="1.0"/>
<text x="36.80" y="479.20" font-size="7.5" text-anchor="end">100</text>
<text transform="translate(167.20,511.20) rotate(-90)" font-size="8.0" text-anchor="middle" textLength="48.0" lengthAdjust="spacingAndGlyphs">% cells in phase</text>
<text x="247.30" y="465.70" font-size="9.4" text-anchor="middle">MM1.S</text>
<rect x="197.50" y="477.10" width="18.70" height="14.93" fill="#6ca844"/>
<rect x="197.50" y="492.03" width="18.70" height="8.53" fill="#2c4a82"/>
<rect x="197.50" y="500.56" width="18.70" height="47.64" fill="#a40026"/>
<line x1="206.50" y1="548.20" x2="206.50" y2="551.20" stroke="#111" stroke-width="0.9"/>
<text transform="translate(209.45,558.10) rotate(-45)" font-size="7.8" text-anchor="end">untreated</text>
<rect x="224.43" y="477.10" width="18.70" height="0.00" fill="#6ca844"/>
<rect x="224.43" y="477.10" width="18.70" height="9.24" fill="#2c4a82"/>
<rect x="224.43" y="486.34" width="18.70" height="61.86" fill="#a40026"/>
<line x1="233.50" y1="548.20" x2="233.50" y2="551.20" stroke="#111" stroke-width="0.9"/>
<circle cx="232.53" cy="472.40" r="0.85" fill="#1a1a1a"/>
<circle cx="235.03" cy="472.40" r="0.85" fill="#1a1a1a"/>
<text transform="translate(236.38,558.10) rotate(-45)" font-size="7.8" text-anchor="end">MK2206</text>
<rect x="251.36" y="477.10" width="18.70" height="15.64" fill="#6ca844"/>
<rect x="251.36" y="492.74" width="18.70" height="8.53" fill="#2c4a82"/>
<rect x="251.36" y="501.27" width="18.70" height="46.93" fill="#a40026"/>
<line x1="260.50" y1="548.20" x2="260.50" y2="551.20" stroke="#111" stroke-width="0.9"/>
<text x="260.71" y="474.30" font-size="6.8" text-anchor="middle" fill="#333" style="stroke:none">ns</text>
<text transform="translate(263.31,558.10) rotate(-45)" font-size="7.8" text-anchor="end">GSK3 inh.</text>
<rect x="278.29" y="477.10" width="18.70" height="1.42" fill="#6ca844"/>
<rect x="278.29" y="478.52" width="18.70" height="9.24" fill="#2c4a82"/>
<rect x="278.29" y="487.77" width="18.70" height="60.44" fill="#a40026"/>
<line x1="287.50" y1="548.20" x2="287.50" y2="551.20" stroke="#111" stroke-width="0.9"/>
<circle cx="286.39" cy="472.40" r="0.85" fill="#1a1a1a"/>
<circle cx="288.89" cy="472.40" r="0.85" fill="#1a1a1a"/>
<text transform="translate(290.24,558.10) rotate(-45)" font-size="7.8" text-anchor="end">MK + GSK3 inh.</text>
<line x1="193.30" y1="474.00" x2="193.30" y2="549.10" stroke="#111" stroke-width="1.35"/>
<line x1="190.60" y1="548.50" x2="301.30" y2="548.50" stroke="#111" stroke-width="1.3"/>
<line x1="190.50" y1="548.20" x2="193.30" y2="548.20" stroke="#111" stroke-width="1.0"/>
<text x="187.50" y="550.90" font-size="7.5" text-anchor="end">0</text>
<line x1="190.50" y1="533.86" x2="193.30" y2="533.86" stroke="#111" stroke-width="1.0"/>
<text x="187.50" y="536.56" font-size="7.5" text-anchor="end">20</text>
<line x1="190.50" y1="519.52" x2="193.30" y2="519.52" stroke="#111" stroke-width="1.0"/>
<text x="187.50" y="522.22" font-size="7.5" text-anchor="end">40</text>
<line x1="190.50" y1="505.18" x2="193.30" y2="505.18" stroke="#111" stroke-width="1.0"/>
<text x="187.50" y="507.88" font-size="7.5" text-anchor="end">60</text>
<line x1="190.50" y1="490.84" x2="193.30" y2="490.84" stroke="#111" stroke-width="1.0"/>
<text x="187.50" y="493.54" font-size="7.5" text-anchor="end">80</text>
<line x1="190.50" y1="476.50" x2="193.30" y2="476.50" stroke="#111" stroke-width="1.0"/>
<text x="187.50" y="479.20" font-size="7.5" text-anchor="end">100</text>
<rect x="305.00" y="475.80" width="8.50" height="3.80" fill="#6ca844"/>
<rect x="305.00" y="484.10" width="8.50" height="3.80" fill="#2c4a82"/>
<rect x="305.00" y="492.20" width="8.50" height="4.00" fill="#a40026"/>
<text x="316.90" y="480.20" font-size="7.0">S</text>
<text x="316.90" y="488.40" font-size="7.0">G2</text>
<text x="316.90" y="496.60" font-size="7.0">G1</text>
</svg></div>
</body></html>
